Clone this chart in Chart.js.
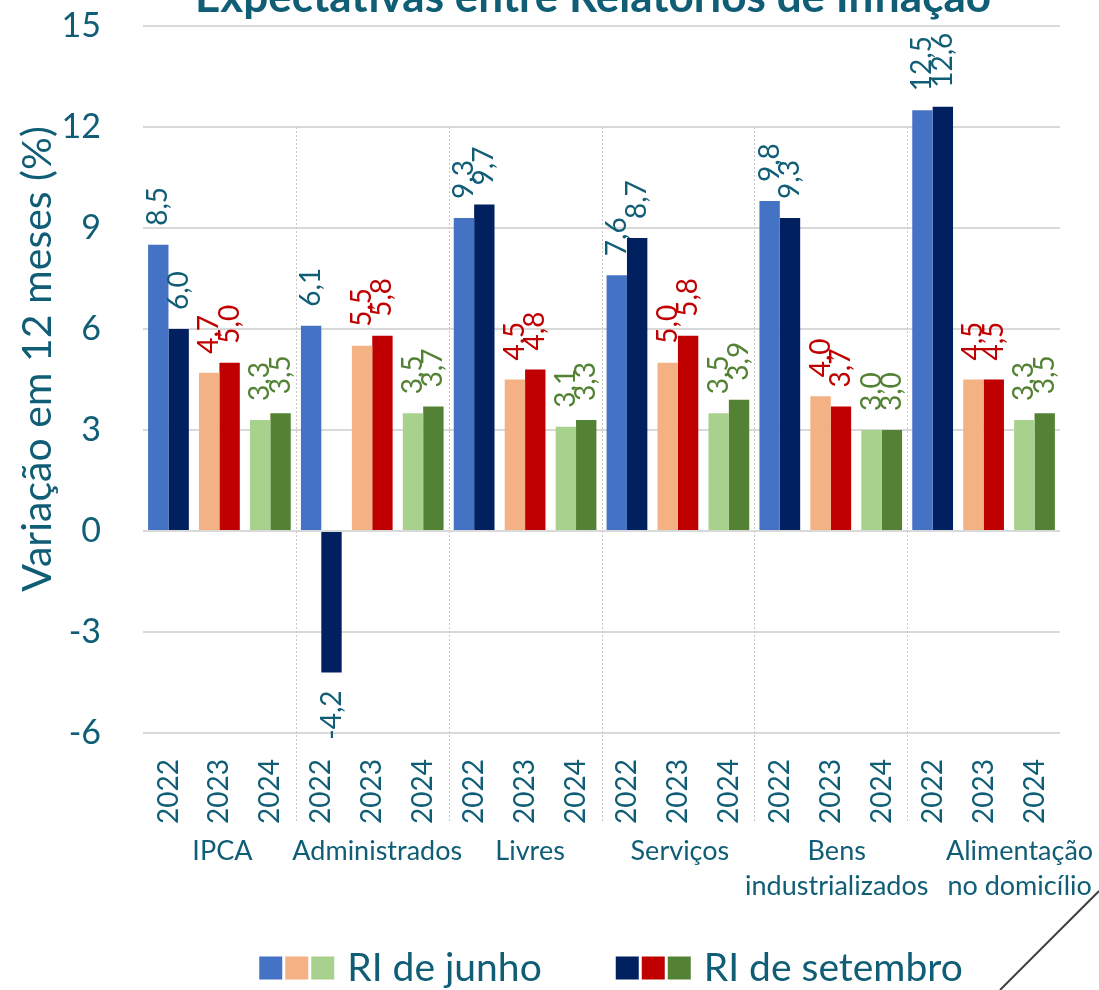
<!DOCTYPE html>
<html>
<head>
<meta charset="utf-8">
<script src="https://cdn.jsdelivr.net/npm/chart.js@4"></script>
<style>
  html, body { margin: 0; padding: 0; background: #ffffff; }
  #wrap { width: 1099px; height: 990px; position: relative; }
</style>
</head>
<body>
<div id="wrap"><canvas id="c" width="1099" height="990"></canvas></div>
<script>
// Inflation expectations, June vs September reports
const groups = [['IPCA'], ['Administrados'], ['Livres'], ['Serviços'], ['Bens', 'industrializados'], ['Alimentação', 'no domicílio']];
const years = ['2022', '2023', '2024'];
const riJunho    = [8.5, 4.7, 3.3,  6.1, 5.5, 3.5,  9.3, 4.5, 3.1,  7.6, 5.0, 3.5,  9.8, 4.0, 3.0,  12.5, 4.5, 3.3];
const riSetembro = [6.0, 5.0, 3.5, -4.2, 5.8, 3.7,  9.7, 4.8, 3.3,  8.7, 5.8, 3.9,  9.3, 3.7, 3.0,  12.6, 4.5, 3.5];
const yTicks = [-6, -3, 0, 3, 6, 9, 12, 15];
const seriesNames = ['RI de junho', 'RI de setembro'];

const junhoColors    = ['#4472C4', '#F4B183', '#A9D18E'];
const setembroColors = ['#002060', '#C00000', '#548235'];
const valueColors    = ['#105D76', '#C00000', '#548235'];
const TEAL = '#105D76';
const FONT = 'Lato, "Open Sans", sans-serif';

const categoryLabels = groups.flatMap(() => years);
const byYear = (palette) => categoryLabels.map((_, i) => palette[i % years.length]);

const fmt = (v) => v.toFixed(1).replace('.', ',');

const decorations = {
  id: 'decorations',
  beforeDatasetsDraw(chart) {
    const { ctx, scales: { x, y } } = chart;
    // dotted separators between groups
    ctx.save();
    ctx.strokeStyle = '#C8C8C8';
    ctx.lineWidth = 1;
    ctx.setLineDash([2, 2]);
    for (let g = 1; g < groups.length; g++) {
      const i = g * years.length;
      const xs = (x.getPixelForValue(i - 1) + x.getPixelForValue(i)) / 2;
      ctx.beginPath();
      ctx.moveTo(Math.round(xs) + 0.5, y.getPixelForValue(12));
      ctx.lineTo(Math.round(xs) + 0.5, 822);
      ctx.stroke();
    }
    ctx.restore();
  },
  afterDatasetsDraw(chart) {
    const { ctx, scales: { x, y } } = chart;

    // value labels above (or below) each bar
    chart.data.datasets.forEach((ds, di) => {
      const meta = chart.getDatasetMeta(di);
      meta.data.forEach((bar, i) => {
        const v = ds.data[i];
        ctx.save();
        ctx.translate(bar.x, v >= 0 ? bar.y - 19 : bar.y + 18);
        ctx.rotate(-Math.PI / 2);
        ctx.textAlign = v >= 0 ? 'left' : 'right';
        ctx.textBaseline = 'middle';
        ctx.fillStyle = valueColors[i % years.length];
        ctx.font = '28px ' + FONT;
        ctx.fillText(fmt(v), 0, 0);
        ctx.restore();
      });
    });

    // group names under the year ticks
    const nudge = [3, 5, 5, 2, 6, 36];
    ctx.save();
    ctx.fillStyle = TEAL;
    ctx.font = '27px ' + FONT;
    ctx.textAlign = 'center';
    ctx.textBaseline = 'middle';
    groups.forEach((lines, g) => {
      const cx = (x.getPixelForValue(g * 3) + x.getPixelForValue(g * 3 + 2)) / 2 + nudge[g];
      lines.forEach((t, k) => ctx.fillText(t, cx, 851 + k * 35));
    });
    ctx.restore();

    // chart title
    ctx.save();
    ctx.fillStyle = TEAL;
    ctx.font = 'bold 44px ' + FONT;
    ctx.textAlign = 'center';
    ctx.textBaseline = 'alphabetic';
    ctx.fillText('Expectativas entre Relatórios de Inflação', 593, 12);
    ctx.restore();

    // y axis title
    ctx.save();
    ctx.fillStyle = TEAL;
    ctx.font = '41px ' + FONT;
    ctx.translate(38, 359);
    ctx.rotate(-Math.PI / 2);
    ctx.textAlign = 'center';
    ctx.textBaseline = 'middle';
    ctx.fillText('Variação em 12 meses (%)', 0, 0);
    ctx.restore();

    // legend: three swatches per report
    ctx.save();
    ctx.font = '39px ' + FONT;
    ctx.textBaseline = 'middle';
    ctx.textAlign = 'left';
    const sw = 23, sgap = 3, tgap = 13, igap = 74;
    const palettes = [junhoColors, setembroColors];
    const widths = seriesNames.map(n => 3 * sw + 2 * sgap + tgap + ctx.measureText(n).width);
    const total = widths[0] + igap + widths[1];
    let lx = 611 - total / 2;
    const ly = 968;
    seriesNames.forEach((name, s) => {
      palettes[s].forEach((c, k) => {
        ctx.fillStyle = c;
        ctx.fillRect(lx + k * (sw + sgap), ly - sw / 2, sw, sw);
      });
      ctx.fillStyle = TEAL;
      ctx.fillText(name, lx + 3 * sw + 2 * sgap + tgap, ly);
      lx += widths[s] + igap;
    });
    ctx.restore();

    // corner slash
    ctx.save();
    ctx.strokeStyle = '#3F3F3F';
    ctx.lineWidth = 2;
    ctx.beginPath();
    ctx.moveTo(1099, 891);
    ctx.lineTo(1000, 990);
    ctx.stroke();
    ctx.restore();
  }
};

new Chart(document.getElementById('c'), {
  type: 'bar',
  data: {
    labels: categoryLabels,
    datasets: [
      { label: seriesNames[0], data: riJunho, backgroundColor: byYear(junhoColors), categoryPercentage: 0.8, barPercentage: 1.0 },
      { label: seriesNames[1], data: riSetembro, backgroundColor: byYear(setembroColors), categoryPercentage: 0.8, barPercentage: 1.0 }
    ]
  },
  options: {
    responsive: false,
    animation: false,
    layout: { padding: { top: 26, right: 39, left: 0, bottom: 0 } },
    plugins: { legend: { display: false }, title: { display: false }, tooltip: { enabled: false } },
    scales: {
      x: {
        grid: { display: false },
        border: { display: false },
        ticks: { color: TEAL, font: { family: FONT, size: 28 }, minRotation: 90, maxRotation: 90, padding: 18, autoSkip: false },
        afterFit(s) { s.height = 257; }
      },
      y: {
        min: -6, max: 15,
        afterBuildTicks(s) { s.ticks = yTicks.map(v => ({ value: v })); },
        grid: { color: '#D9D9D9', lineWidth: 2, drawTicks: false },
        border: { display: false },
        ticks: { color: TEAL, font: { family: FONT, size: 34 }, padding: 42 },
        afterFit(s) { s.width = 143; s.paddingTop = 0; s.paddingBottom = 0; }
      }
    }
  },
  plugins: [decorations]
});
</script>
</body>
</html>
